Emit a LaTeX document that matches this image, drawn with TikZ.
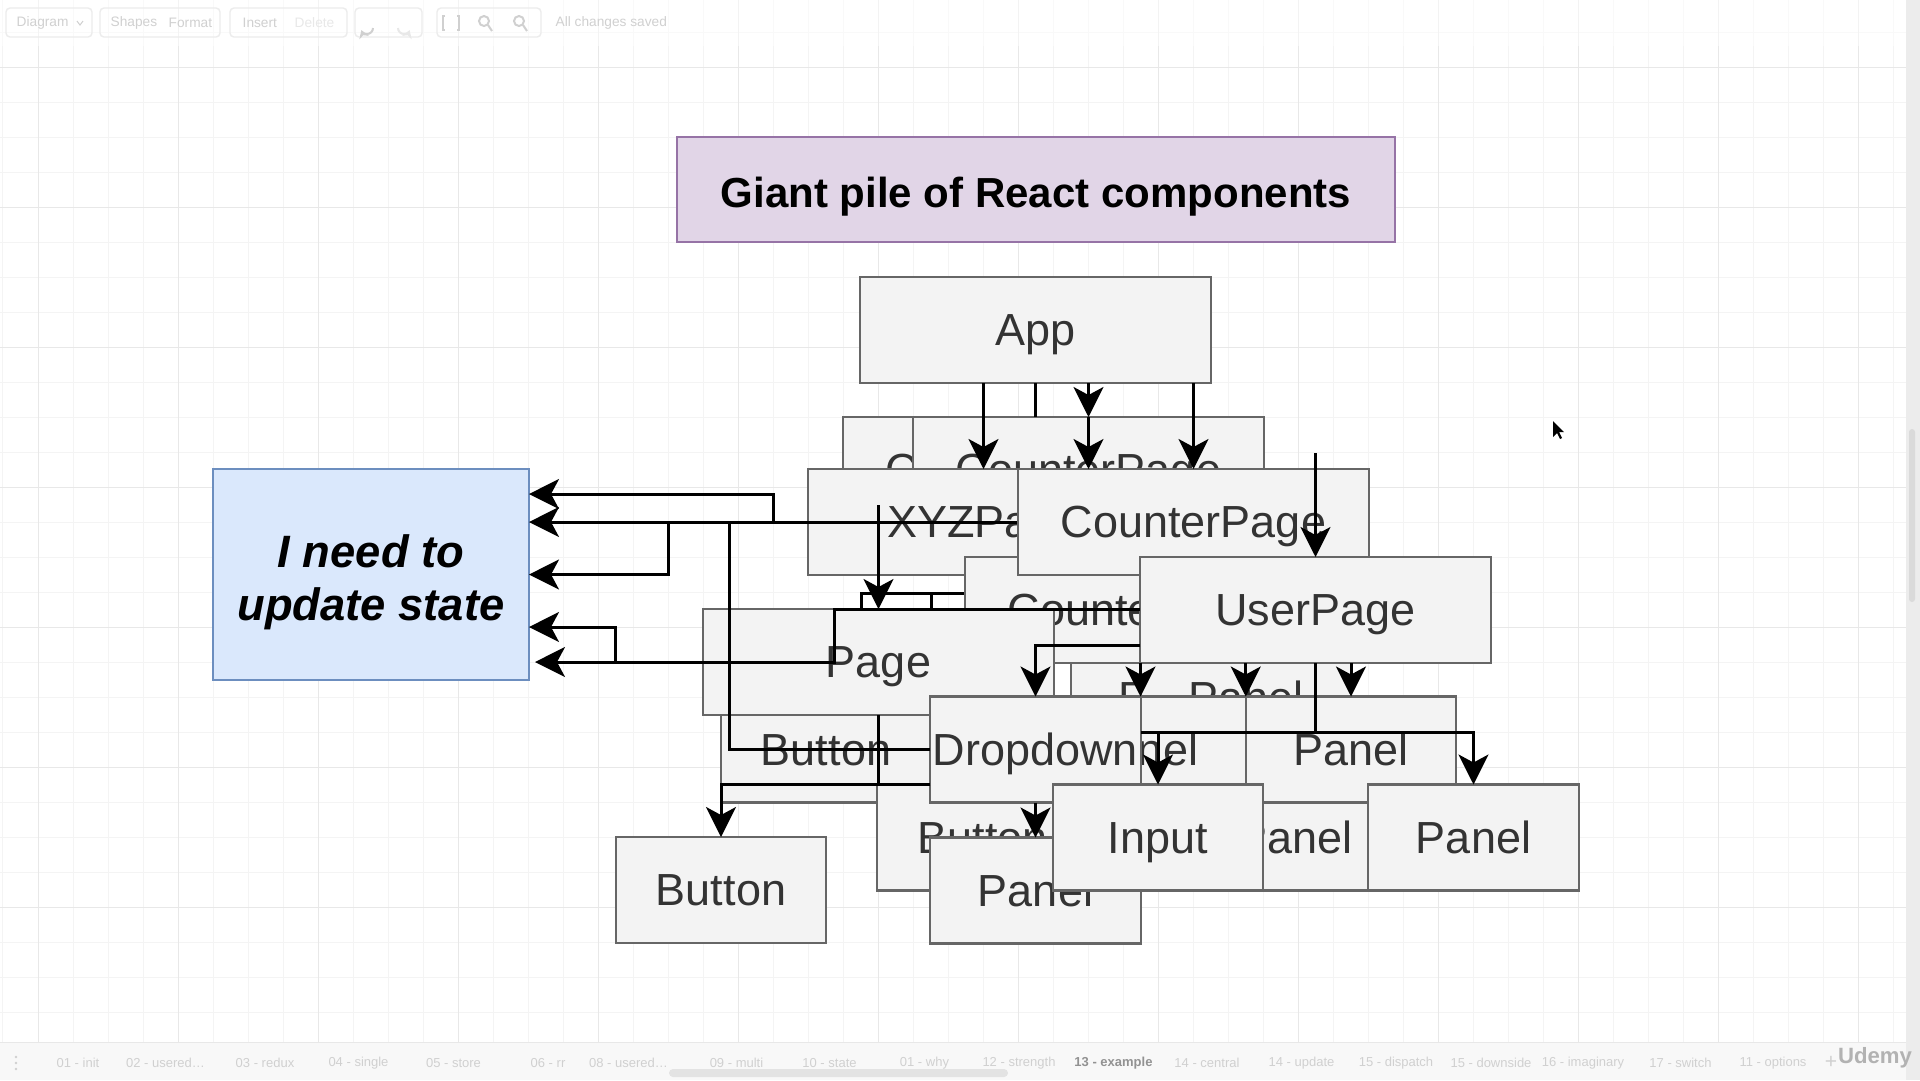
\documentclass[tikz,border=0pt]{standalone}
\usepackage{fontspec}
\setmainfont{Liberation Sans}
\usetikzlibrary{arrows.meta,calc}

\definecolor{boxfill}{HTML}{F3F3F3}
\definecolor{boxline}{HTML}{666666}
\definecolor{boxtext}{HTML}{333333}
\definecolor{titlefill}{HTML}{E1D5E7}
\definecolor{titleline}{HTML}{9673A6}
\definecolor{statefill}{HTML}{DAE8FC}
\definecolor{stateline}{HTML}{6C8EBF}
\definecolor{gridlight}{HTML}{F4F4F4}
\definecolor{griddark}{HTML}{E8E8E8}
\definecolor{chrome}{HTML}{D0D0D0}
\definecolor{tabfill}{HTML}{F8F8F8}

\tikzset{
	comp/.style = {draw=boxline, fill=boxfill, line width=0.23mm, text=boxtext,
		font=\fontsize{12.8}{15}\selectfont, inner sep=0pt, outer sep=0pt,
		minimum height=10.6mm, text height=11.6pt, text depth=2.7pt},
	widebox/.style = {comp, minimum width=35.1mm},
	smallbox/.style = {comp, minimum width=21.05mm},
	note/.style = {draw, line width=0.27mm, inner sep=0pt, outer sep=0pt, text=black},
	wire/.style = {line width=0.3mm, -{Stealth[length=3mm, width=3mm, inset=0.8mm]}},
	bare/.style = {line width=0.3mm},
	gridminor/.style = {draw=gridlight, line width=0.1mm},
	gridmajor/.style = {draw=griddark, line width=0.1mm},
	tablabel/.style = {text=chrome, font=\fontsize{3.7}{4}\selectfont, inner sep=0pt},
	toollabel/.style = {text=chrome, font=\fontsize{3.9}{4.5}\selectfont, inner sep=0pt, anchor=west},
}

\begin{document}
\begin{tikzpicture}[x=0.1mm, y=-0.1mm]
	\useasboundingbox (0,0) rectangle (1920,1080);
	\fill[white] (0,0) rectangle (1920,1080);
	% canvas grid
	\foreach \gx in {3,38,...,1906} \draw[gridminor] (\gx,0) -- (\gx,1042);
	\foreach \gy in {32,67,...,1042} \draw[gridminor] (0,\gy) -- (1906,\gy);
	\foreach \gx in {38,178,...,1906} \draw[gridmajor] (\gx,0) -- (\gx,1042);
	\foreach \gy in {67,207,...,1042} \draw[gridmajor] (0,\gy) -- (1906,\gy);
	% toolbar
	\fill[white, opacity=0.5] (0,0) rectangle (1906,46);
	\foreach \bx/\bw in {6/86,100/120,230/117,355/67,437/104}
		\draw[chrome!40, rounded corners=0.4mm] (\bx,8) rectangle ++(\bw,29);
	\node[toollabel] (tbdiagram) at (16,23) {Diagram};
	\draw[chrome, line width=0.1mm] (77,21) -- (80,25) -- (83,21);
	\node[toollabel] (tbshapes) at (110,23) {Shapes};
	\node[toollabel] (tbformat) at (168,23) {Format};
	\node[toollabel] (tbinsert) at (242,23) {Insert};
	\node[toollabel, text=chrome!50] (tbdelete) at (294,23) {Delete};
	\draw[chrome, line width=0.2mm, -{Stealth[length=0.8mm, width=1mm]}] (373,28) arc (0:160:6);
	\draw[chrome!50, line width=0.2mm, -{Stealth[length=0.8mm, width=1mm]}] (398,28) arc (180:20:6);
	\draw[chrome, line width=0.2mm] (445,16) -- (443,16) -- (443,30) -- (445,30) (457,16) -- (459,16) -- (459,30) -- (457,30);
	\foreach \zx in {484,519} {
		\draw[chrome, line width=0.2mm] (\zx,21) circle (5);
		\draw[chrome, line width=0.2mm] (\zx+4,25) -- (\zx+8,31);
	}
	\node[toollabel] (tbsaved) at (555,23) {All changes saved};
	% tab bar, scroll bars, pointer
	\fill[tabfill] (0,1042) rectangle (1906,1080);
	\draw[chrome!50, line width=0.1mm] (0,1042) -- (1906,1042);
	\fill[tabfill!70!chrome] (1906,0) rectangle (1920,1080);
	\fill[chrome!80, rounded corners=0.3mm] (1909,429) rectangle (1915,602);
	\fill[chrome!60, rounded corners=0.4mm] (669,1069) rectangle (1008,1077);
	\foreach \dy in {1057,1063,1069} \fill[chrome] (16,\dy) circle (1.3);
	\foreach \tx/\tl [count=\ti] in {78/01 - init, 165.5/02 - usered\ldots, 265/03 - redux,
		358.5/04 - single, 453.5/05 - store, 548/06 - rr, 628.5/08 - usered\ldots,
		736.5/09 - multi, 829.5/10 - state, 924.5/01 - why, 1019/12 - strength,
		1207/14 - central, 1301.5/14 - update, 1396/15 - dispatch, 1491/15 - downside,
		1583/16 - imaginary, 1680.5/17 - switch, 1773/11 - options}
		\node[tablabel] (tab\ti) at (\tx,1063) {\tl};
	\node[tablabel, text=chrome!70!black, font=\fontsize{3.7}{4}\selectfont\bfseries] (tabnow) at (1113.5,1063) {13 - example};
	\node[tablabel, font=\fontsize{6}{7}\selectfont] (tabplus) at (1831,1062) {+};
	\node[text=black!30, font=\fontsize{6.3}{7}\selectfont\bfseries, inner sep=0pt] (udemy) at (1875,1058) {Udemy};
	\fill[black] (1553,421) -- (1553,437) -- (1557,433) -- (1560,439) -- (1562,438) -- (1559,432) -- (1564,432) -- cycle;

	% the pile
	\node[comp, minimum width=71.8mm, minimum height=10.5mm, fill=titlefill, draw=titleline, line width=0.27mm,
		text=black, font=\fontsize{11.95}{14}\selectfont\bfseries, text height=11.7pt, text depth=1.5pt] (title) at (1036,189.5) {Giant pile of React components};
	\node[widebox] (app) at (1035.5,330) {App};
	\node[note, minimum width=31.6mm, minimum height=21.1mm, fill=statefill, draw=stateline] (state) at (371,574.5) {};
	\node[align=center, inner sep=0pt, font=\fontsize{12.9}{15}\selectfont\bfseries\itshape] (statetext) at ([yshift=-0.8mm]state.center) {I need to\\update state};
	\node[widebox] (cpa) at (1018.5,470) {CounterPage};
	\node[widebox] (cpb) at (1088.5,470) {CounterPage};
	\draw[bare] (app.south) -- (app.south |- cpb.north);
	\draw[wire] (app.south -| cpb.north) -- (cpb.north);
	\node[widebox] (xyz) at (983.5,522) {XYZPage};
	\coordinate (hub) at (1018,522);
	\draw[wire] (hub) -- (state.east |- hub);
	\coordinate (stub1) at (964,593);
	\coordinate (stub2) at (931,593);
	\draw[bare] (stub1) -| (861,609);
	\draw[bare] (stub2) -- (931,609);
	\node[smallbox] (pa) at (1176,697.5) {Panel};
	\node[smallbox] (pb) at (1246,697.5) {Panel};
	\node[widebox] (cpd) at (1140.5,610) {CounterPage};
	\node[widebox] (cpc) at (1193.5,522) {CounterPage};
	\node[widebox] (user) at (1315.5,610) {UserPage};
	\node[smallbox] (btna) at (826,749.5) {Button};
	\node[widebox] (page) at (878.5,662) {Page};
	\node[smallbox] (btnb) at (982.5,837.5) {Button};
	\node[smallbox] (panm) at (1295,837.5) {Panel};
	\node[smallbox] (panh) at (1140.5,749.5) {Panel};
	\node[smallbox] (pan) at (1351,749.5) {Panel};
	\node[smallbox] (drop) at (1035.5,749.5) {Dropdown};
	\node[smallbox] (pbot) at (1035.5,890.5) {Panel};
	\node[smallbox] (inp) at (1158,837.5) {Input};
	\node[smallbox] (panr) at (1473.5,837.5) {Panel};
	\node[smallbox] (btnc) at (721,890) {Button};

	% connectors on top
	\draw[wire] (app.south -| xyz.north) -- (xyz.north);
	\draw[wire] (cpb.north) -- (cpb.north |- xyz.north);
	\draw[wire] (app.south -| cpc.north) -- (cpc.north);
	\coordinate (usersrc) at (1315.5,453);
	\draw[wire] (usersrc) -- (user.north);
	\coordinate (pagesrc) at (878.5,505);
	\draw[wire] (pagesrc) -- (page.north);
	\draw[wire] (773,522) |- (state.east |- 0,494);
	\draw[wire] (668,522) |- (state.east);
	\draw[wire] (615,662) |- (state.east |- 0,627);
	\draw[wire] (user.west |- page.north) -| (834,662) -- ($(state.east |- page.west)+(6,0)$);
	\draw[bare] (drop.west) -| (729,522);
	\draw[wire] (page.south) |- (btnc.north |- btnb.north) -- (btnc.north);
	\draw[bare] (drop.west |- btnb.north) -- (page.south |- btnb.north);
	\draw[wire] (user.west |- 0,645) -| (drop.north);
	\draw[wire] (user.south -| panh.north) -- (panh.north);
	\draw[wire] (user.south -| pan.north west) -- (pan.north west);
	\draw[wire] (user.south -| pan.north) -- (pan.north);
	\coordinate (bus) at (1315.5,732);
	\draw[bare] (user.south) -- (bus);
	\draw[wire] (bus) -| (panr.north);
	\draw[wire] (bus) -| (inp.north);
	\draw[bare] (inp.north |- bus) -- (drop.east |- bus);
	\draw[wire] (drop.south) -- (pbot.north);
\end{tikzpicture}
\end{document}
